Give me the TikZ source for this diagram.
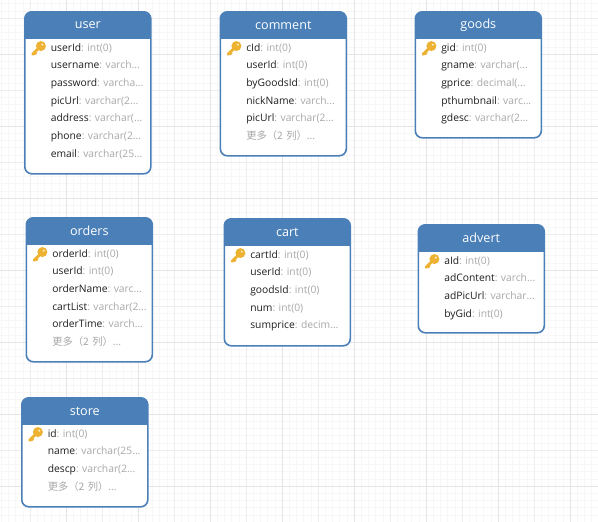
\documentclass[tikz,border=0pt]{standalone}
\usepackage{fontspec}
\usepackage{xcolor}
\usetikzlibrary{positioning}
\setmainfont{Open Sans}
\newfontfamily\cjkfont{Noto Sans CJK SC}
\definecolor{headblue}{RGB}{74,127,184}
\definecolor{keygold}{RGB}{238,178,50}
\definecolor{typegray}{RGB}{168,168,168}
\definecolor{namedark}{RGB}{30,30,30}
\newcommand{\fld}[2]{\textcolor{namedark}{#1}: #2}
\newcommand{\more}{{\cjkfont 更多（2 列）}...}
\frenchspacing

\begin{document}
\begin{tikzpicture}[x=1pt, y=-1pt,
  tablebox/.style={draw=headblue, fill=white, rounded corners=7pt, line width=1.6pt,
              anchor=north west, minimum width=126pt, inner sep=0pt,
              path picture={\fill[headblue, sharp corners] (path picture bounding box.north west)
                rectangle ([yshift=-27pt]path picture bounding box.north east);}},
  title/.style={font=\fontsize{12.6}{14}\selectfont, color=white, minimum height=28pt, inner sep=0pt, outer sep=0pt},
  field/.style={font=\fontsize{10.3}{12}\selectfont, color=typegray, text width=99pt, align=left,
              text height=7.4pt, text depth=2.6pt, minimum height=17.7pt, inner sep=0pt, outer sep=0pt},
  first/.style={xshift=12.5pt, yshift=-0.8pt},
  minorline/.style={color=black!3, line width=0.6pt},
  midline/.style={color=black!7, line width=0.7pt},
  majorline/.style={color=black!10, line width=0.8pt},
  keyicon/.pic={
    \draw[keygold, line width=2.8pt, line cap=round] (-5.8,5.8) -- (1,-1);
    \draw[keygold, line width=1.6pt, line cap=round] (-3.6,5.8) -- (-2,4.2);
    \fill[keygold] (2.6,-2.6) circle (5pt);
    \fill[white!75!keygold] (4,-4) circle (1.1pt);
  }
]
  \useasboundingbox (0,0) rectangle (598,522);
  % paper grid
  \foreach \gx in {0,...,83} \draw[minorline] (1.2+7.2*\gx,0) -- (1.2+7.2*\gx,522);
  \foreach \gy in {0,...,72} \draw[minorline] (0,3.6+7.2*\gy) -- (598,3.6+7.2*\gy);
  \foreach \gx in {30,102,...,570} \draw[midline] (\gx,0) -- (\gx,522);
  \foreach \gy in {18,90,...,522} \draw[midline] (0,\gy) -- (598,\gy);
  \foreach \gx in {66,138,...,570} \draw[majorline] (\gx,0) -- (\gx,522);
  \foreach \gy in {54,126,...,522} \draw[majorline] (0,\gy) -- (598,\gy);

  % user
  \node[tablebox, minimum height=162pt] (user) at (24,11) {};
  \node[title, below=0pt of user.north] (usert) {user};
  \node[field, below=0pt of usert, first] (u1) {\fld{userId}{int(0)}};
  \node[field, below=0pt of u1] (u2) {\fld{username}{varch...}};
  \node[field, below=0pt of u2] (u3) {\fld{password}{varcha...}};
  \node[field, below=0pt of u3] (u4) {\fld{picUrl}{varchar(2...}};
  \node[field, below=0pt of u4] (u5) {\fld{address}{varchar(...}};
  \node[field, below=0pt of u5] (u6) {\fld{phone}{varchar(2...}};
  \node[field, below=0pt of u6] (u7) {\fld{email}{varchar(25...}};
  \pic at ([xshift=-12.5pt]u1.west) {keyicon};

  % comment
  \node[tablebox, minimum height=144pt] (comment) at (219.5,11) {};
  \node[title, below=0pt of comment.north] (commentt) {comment};
  \node[field, below=0pt of commentt, first] (c1) {\fld{cId}{int(0)}};
  \node[field, below=0pt of c1] (c2) {\fld{userId}{int(0)}};
  \node[field, below=0pt of c2] (c3) {\fld{byGoodsId}{int(0)}};
  \node[field, below=0pt of c3] (c4) {\fld{nickName}{varch...}};
  \node[field, below=0pt of c4] (c5) {\fld{picUrl}{varchar(2...}};
  \node[field, below=0pt of c5] (c6) {\more};
  \pic at ([xshift=-12.5pt]c1.west) {keyicon};

  % goods
  \node[tablebox, minimum height=126pt] (goods) at (414.5,11) {};
  \node[title, below=0pt of goods.north] (goodst) {goods};
  \node[field, below=0pt of goodst, first] (g1) {\fld{gid}{int(0)}};
  \node[field, below=0pt of g1] (g2) {\fld{gname}{varchar(...}};
  \node[field, below=0pt of g2] (g3) {\fld{gprice}{decimal(...}};
  \node[field, below=0pt of g3] (g4) {\fld{pthumbnail}{varc...}};
  \node[field, below=0pt of g4] (g5) {\fld{gdesc}{varchar(2...}};
  \pic at ([xshift=-12.5pt]g1.west) {keyicon};

  % orders
  \node[tablebox, minimum height=144pt] (orders) at (25.5,217) {};
  \node[title, below=0pt of orders.north] (orderst) {orders};
  \node[field, below=0pt of orderst, first] (o1) {\fld{orderId}{int(0)}};
  \node[field, below=0pt of o1] (o2) {\fld{userId}{int(0)}};
  \node[field, below=0pt of o2] (o3) {\fld{orderName}{varc...}};
  \node[field, below=0pt of o3] (o4) {\fld{cartList}{varchar(2...}};
  \node[field, below=0pt of o4] (o5) {\fld{orderTime}{varch...}};
  \node[field, below=0pt of o5] (o6) {\more};
  \pic at ([xshift=-12.5pt]o1.west) {keyicon};

  % cart
  \node[tablebox, minimum height=127pt] (cart) at (223.5,218) {};
  \node[title, below=0pt of cart.north] (cartt) {cart};
  \node[field, below=0pt of cartt, first] (k1) {\fld{cartId}{int(0)}};
  \node[field, below=0pt of k1] (k2) {\fld{userId}{int(0)}};
  \node[field, below=0pt of k2] (k3) {\fld{goodsId}{int(0)}};
  \node[field, below=0pt of k3] (k4) {\fld{num}{int(0)}};
  \node[field, below=0pt of k4] (k5) {\fld{sumprice}{decim...}};
  \pic at ([xshift=-12.5pt]k1.west) {keyicon};

  % advert
  \node[tablebox, minimum height=108pt] (advert) at (417.5,224) {};
  \node[title, below=0pt of advert.north] (advertt) {advert};
  \node[field, below=0pt of advertt, first] (a1) {\fld{aId}{int(0)}};
  \node[field, below=0pt of a1] (a2) {\fld{adContent}{varch...}};
  \node[field, below=0pt of a2] (a3) {\fld{adPicUrl}{varchar...}};
  \node[field, below=0pt of a3] (a4) {\fld{byGid}{int(0)}};
  \pic at ([xshift=-12.5pt]a1.west) {keyicon};

  % store
  \node[tablebox, minimum height=109pt] (store) at (21,397) {};
  \node[title, below=0pt of store.north] (storet) {store};
  \node[field, below=0pt of storet, first] (s1) {\fld{id}{int(0)}};
  \node[field, below=0pt of s1] (s2) {\fld{name}{varchar(25...}};
  \node[field, below=0pt of s2] (s3) {\fld{descp}{varchar(2...}};
  \node[field, below=0pt of s3] (s4) {\more};
  \pic at ([xshift=-12.5pt]s1.west) {keyicon};
\end{tikzpicture}
\end{document}
